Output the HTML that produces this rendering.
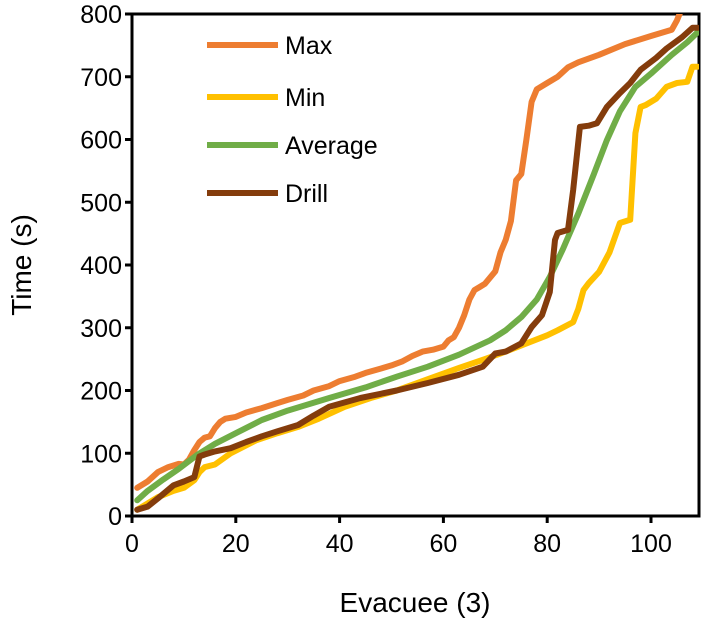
<!DOCTYPE html>
<html><head><meta charset="utf-8"><style>
body{margin:0;background:#fff;}
text{font-family:"Liberation Sans",sans-serif;fill:#000;}
</style></head><body>
<svg id="chart" width="703" height="624">
<g id="axes"></g><g id="series"></g><g id="legend"></g>
</svg>
<script>
const xTicks=[0,20,40,60,80,100];
const yTicks=[0,100,200,300,400,500,600,700,800];
const seriesNames=["Max","Min","Average","Drill"];
const seriesColors=["#ED7D31","#FFC000","#70AD47","#843C0C"];
const maxX=[1,3,5,7,9,10,11,12,13,14,15,16,17,18,20,22,25,28,30,33,35,38,40,43,45,48,50,52,54,56,58,60,61,62,63,64,65,66,67,68,69,70,71,72,73,74,75,76,77,78,80,82,84,86,90,95,100,104,105,106];
const maxY=[45,55,70,78,83,82,90,105,118,125,127,140,150,155,158,165,172,180,185,192,200,207,215,222,228,235,240,246,255,262,265,270,280,285,300,320,345,360,365,370,380,390,420,440,470,535,545,600,660,680,690,700,715,723,735,752,765,775,790,810];
const minX=[1,3,5,8,10,12,13,14,16,19,24,28,32,36,41,46,51,57,63,68,72,76,80,82,85,86,87,88,90,92,94,96,97,98,99,101,103,105,107,108,109];
const minY=[10,20,30,40,45,57,70,78,82,100,121,132,142,155,174,188,200,218,236,250,262,275,288,296,309,330,360,371,389,420,467,472,610,652,655,665,684,690,692,716,716];
const avgX=[1,3,6,9,12.5,16,20,25,30,38,45,51,57,63,69,72,75,78,80.5,83,86,89,91.5,94,97,100,104,107,109];
const avgY=[25,40,58,75,97,115,132,153,168,188,205,222,238,257,280,296,317,345,381,425,482,545,599,645,684,705,735,755,771];
const drillX=[1,3,5,8,10,12,13,14,16,19,22,25,28,32,35,38,44,51,57,63,67.6,70,72,75,77,79,80.5,81.5,82,84,85,86.3,88,89.6,91.5,94,96,98,101,103,106,108,109];
const drillY=[10,15,28,49,55,62,95,98,103,108,118,127,135,145,160,174,188,200,212,225,238,259,262,275,301,320,357,440,451,456,520,620,622,626,652,674,690,711,730,745,763,778,778];
const xs=[maxX,minX,avgX,drillX], ys=[maxY,minY,avgY,drillY];
const X0=132,X1=699,Y0=516,Y1=14;
function xp(v){return X0+v*5.19;}
function yp(v){return Y0-(v/800)*(Y0-Y1);}
const NS="http://www.w3.org/2000/svg";
function mk(t,a,p){const e=document.createElementNS(NS,t);for(const k in a)e.setAttribute(k,a[k]);p.appendChild(e);return e;}
const ax=document.getElementById('axes');
const frame=mk('rect',{x:X0,y:Y1,width:X1-X0,height:Y0-Y1,fill:'none',stroke:'#000','stroke-width':3},ax);


xTicks.forEach(v=>{
 const l=mk('line',{x1:xp(v),x2:xp(v),y1:Y0,y2:Y0+7,stroke:'#000','stroke-width':3},ax);
 
 
 const t=mk('text',{x:xp(v),y:Y0+36,'text-anchor':'middle','font-size':25},ax);t.textContent=v;
 
 
});
yTicks.forEach(v=>{
 const l=mk('line',{x1:X0-7,x2:X0,y1:yp(v),y2:yp(v),stroke:'#000','stroke-width':3},ax);
 
 
 const t=mk('text',{x:X0-10,y:yp(v)+9,'text-anchor':'end','font-size':25},ax);t.textContent=v;
 
 
});
const xt=mk('text',{x:415,y:612,'text-anchor':'middle','font-size':28},ax);xt.textContent='Evacuee (3)';


const yt=mk('text',{x:0,y:0,'text-anchor':'middle','font-size':28,transform:'translate(31,265) rotate(-90)'},ax);yt.textContent='Time (s)';


const sg=document.getElementById('series');
const defs=mk('defs',{},sg);const cp=mk('clipPath',{id:'clip'},defs);mk('rect',{x:X0,y:Y1,width:X1-X0,height:Y0-Y1},cp);
xs.forEach((arr,i)=>{
 const d=arr.map((x,j)=>(j?'L':'M')+xp(x).toFixed(1)+','+yp(ys[i][j]).toFixed(1)).join('');
 const p=mk('path',{d:d,fill:'none',stroke:seriesColors[i],'stroke-width':6,'stroke-linejoin':'round','stroke-linecap':'round','clip-path':'url(#clip)'},sg);
 
 
});
const lg=document.getElementById('legend');
const ly=[45,97,145,193];
seriesNames.forEach((n,i)=>{
 const l=mk('line',{x1:207,x2:278,y1:ly[i],y2:ly[i],stroke:seriesColors[i],'stroke-width':6},lg);
 
 
 const t=mk('text',{x:285,y:ly[i]+9,'font-size':25},lg);t.textContent=n;
 
 
});
</script>
</body></html>
